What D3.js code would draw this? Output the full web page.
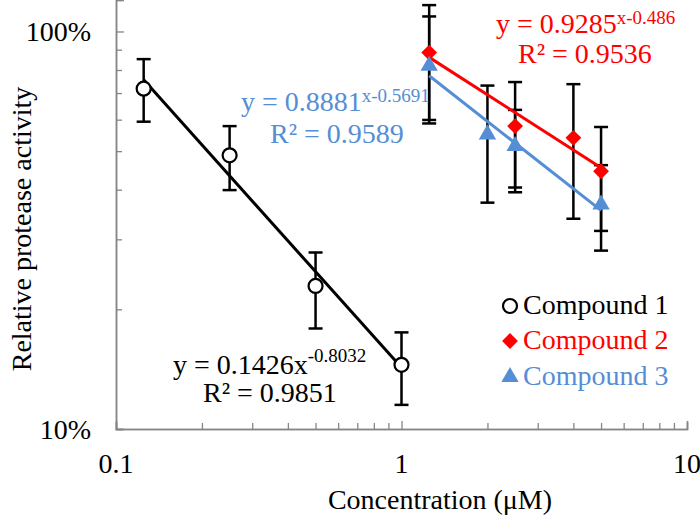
<!DOCTYPE html>
<html>
<head>
<meta charset="utf-8">
<script src="https://cdn.jsdelivr.net/npm/d3@7/dist/d3.min.js"></script>
<style>
  html, body { margin: 0; padding: 0; background: #fff; }
  svg { display: block; font-family: "Liberation Serif", "Times New Roman", serif; }
</style>
</head>
<body>
<svg id="chart" width="700" height="516"></svg>
<script>
// ---------- data ----------
const seriesNames = ["Compound 1", "Compound 2", "Compound 3"];
const c1X = [0.125, 0.25, 0.5, 1];
const c1Y = [0.718, 0.488, 0.229, 0.145];
const c1Hi = [0.852, 0.578, 0.278, 0.175];
const c1Lo = [0.593, 0.399, 0.179, 0.115];

const c2X = [1.25, 2.5, 4, 5];
const c2Y = [0.885, 0.578, 0.540, 0.445];
const c2Hi = [1.165, 0.746, 0.737, 0.575];
const c2Lo = [0.599, 0.405, 0.338, 0.315];

const c3X = [1.25, 2, 2.5, 5];
const c3Y = [0.820, 0.551, 0.515, 0.367];
const c3Hi = [1.091, 0.731, 0.635, 0.461];
const c3Lo = [0.587, 0.371, 0.394, 0.281];

const xTickValues = [0.1, 1, 10];
const xTickLabels = ["0.1", "1", "10"];
const yTickValues = [0.1, 1];
const yTickLabels = ["10%", "100%"];

const eq1Main = "y = 0.1426x", eq1Sup = "-0.8032", eq1R = "R² = 0.9851";
const eq2Main = "y = 0.9285", eq2Sup = "x-0.486", eq2R = "R² = 0.9536";
const eq3Main = "y = 0.8881", eq3Sup = "x-0.5691", eq3R = "R² = 0.9589";

const xTitle = "Concentration (μM)";
const yTitle = "Relative protease activity";

// ---------- setup ----------
const svg = d3.select("#chart");
const FONT = 28;
const SUP = 19;
const RED = "#FF0000", BLUE = "#558ED5", BLACK = "#000000", AXIS = "#868686";

const x = d3.scaleLog().domain([0.1, 10]).range([116, 687]);
const y = d3.scaleLog().domain([0.1, 1.2]).range([429, 0]);

const series = [
  { name: seriesNames[0], xs: c1X, ys: c1Y, hi: c1Hi, lo: c1Lo, color: BLACK, sym: "circle" },
  { name: seriesNames[1], xs: c2X, ys: c2Y, hi: c2Hi, lo: c2Lo, color: RED, sym: "diamond" },
  { name: seriesNames[2], xs: c3X, ys: c3Y, hi: c3Hi, lo: c3Lo, color: BLUE, sym: "triangle" }
];

// ---------- axes ----------
const minorX = [];
[0.1, 1].forEach(d => { for (let k = 2; k <= 9; k++) minorX.push(d * k); });
const minorY = [];
for (let k = 2; k <= 9; k++) minorY.push(0.1 * k);

const xAxisG = svg.append("g").attr("transform", `translate(0,${y.range()[0]})`);
xAxisG.call(d3.axisTop(x).tickValues(minorX).tickSize(6).tickFormat(""));
xAxisG.append("g").call(d3.axisTop(x).tickValues(xTickValues).tickSize(8).tickFormat(""));
xAxisG.selectAll("path.domain").attr("stroke", AXIS).attr("stroke-width", 1.5);
xAxisG.selectAll(".tick line").attr("stroke", AXIS).attr("stroke-width", 1.3);

const yAxisG = svg.append("g").attr("transform", `translate(${x.range()[0]},0)`);
yAxisG.call(d3.axisRight(y).tickValues(minorY).tickSize(6).tickFormat(""));
yAxisG.append("g").call(d3.axisRight(y).tickValues(yTickValues).tickSize(8).tickFormat(""));
yAxisG.selectAll("path.domain").attr("stroke", AXIS).attr("stroke-width", 1.5);
yAxisG.selectAll(".tick line").attr("stroke", AXIS).attr("stroke-width", 1.3);

// tick labels
svg.append("g").selectAll("text").data(xTickValues).join("text")
  .attr("x", d => x(d)).attr("y", 473)
  .attr("text-anchor", "middle").attr("font-size", FONT).attr("fill", "#000")
  .text((d, i) => xTickLabels[i]);

svg.append("g").selectAll("text").data(yTickValues).join("text")
  .attr("x", 91).attr("y", d => y(d) + 9.5)
  .attr("text-anchor", "end").attr("font-size", FONT).attr("fill", "#000")
  .text((d, i) => yTickLabels[i]);

// axis titles
svg.append("text").attr("x", 440).attr("y", 509).attr("text-anchor", "middle")
  .attr("font-size", FONT).text(xTitle);
svg.append("text").attr("transform", "translate(31,229) rotate(-90)")
  .attr("text-anchor", "middle").attr("font-size", FONT).text(yTitle);

// ---------- error bars ----------
const ebG = svg.append("g").attr("stroke", "#000").attr("stroke-width", 2.5).attr("fill", "none");
series.forEach(s => {
  s.xs.forEach((xv, i) => {
    const cx = x(xv), top = y(s.hi[i]), bot = y(s.lo[i]);
    ebG.append("line").attr("x1", cx).attr("x2", cx).attr("y1", top).attr("y2", bot);
    ebG.append("line").attr("x1", cx - 7).attr("x2", cx + 7).attr("y1", top).attr("y2", top);
    ebG.append("line").attr("x1", cx - 7).attr("x2", cx + 7).attr("y1", bot).attr("y2", bot);
  });
});

// ---------- power-law trendlines (least squares in log space) ----------
function powerFit(xs, ys) {
  const lx = xs.map(Math.log), ly = ys.map(Math.log);
  const mx = d3.mean(lx), my = d3.mean(ly);
  const sxy = d3.sum(lx, (v, i) => (v - mx) * (ly[i] - my));
  const sxx = d3.sum(lx, v => (v - mx) * (v - mx));
  const b = sxy / sxx, a = Math.exp(my - b * mx);
  return xv => a * Math.pow(xv, b);
}
const lineGen = d3.line().x(d => x(d[0])).y(d => y(d[1]));
series.forEach(s => {
  const f = powerFit(s.xs, s.ys);
  const ext = d3.extent(s.xs);
  svg.append("path").datum(ext.map(v => [v, f(v)]))
    .attr("d", lineGen).attr("stroke", s.color).attr("stroke-width", 3).attr("fill", "none");
});

// ---------- markers ----------
function drawMarker(g, sym, cx, cy, color) {
  if (sym === "circle") {
    g.append("circle").attr("cx", cx).attr("cy", cy).attr("r", 7)
      .attr("fill", "#fff").attr("stroke", color).attr("stroke-width", 2.2);
  } else if (sym === "diamond") {
    g.append("path").attr("d", d3.symbol(d3.symbolSquare, 125)())
      .attr("transform", `translate(${cx},${cy}) rotate(45)`).attr("fill", color);
  } else {
    g.append("path").attr("d", d3.symbol(d3.symbolTriangle, 130)())
      .attr("transform", `translate(${cx},${cy})`).attr("fill", color);
  }
}
const mG = svg.append("g");
series.forEach(s => {
  s.xs.forEach((xv, i) => drawMarker(mG, s.sym, x(xv), y(s.ys[i]), s.color));
});

// ---------- equation labels ----------
function equation(xs, ys, main, sup, supDy, rText, rx, ry, color) {
  const t = svg.append("text").attr("x", xs).attr("y", ys).attr("font-size", FONT).attr("fill", color);
  t.append("tspan").text(main);
  t.append("tspan").attr("font-size", SUP).attr("dy", -supDy).text(sup);
  svg.append("text").attr("x", rx).attr("y", ry).attr("font-size", FONT).attr("fill", color).text(rText);
}
equation(173, 374, eq1Main, eq1Sup, 12, eq1R, 203, 401.5, BLACK);
equation(496, 33, eq2Main, eq2Sup, 9.5, eq2R, 518, 63, RED);
equation(241, 111, eq3Main, eq3Sup, 9.5, eq3R, 270, 143, BLUE);

// ---------- legend ----------
const legY = [306, 341, 377];
const lg = svg.append("g");
series.forEach((s, i) => {
  drawMarker(lg, s.sym, 510, legY[i], s.color);
  lg.append("text").attr("x", 523).attr("y", legY[i] + 7.5).attr("font-size", FONT)
    .attr("fill", s.color).text(s.name);
});
</script>
</body>
</html>
